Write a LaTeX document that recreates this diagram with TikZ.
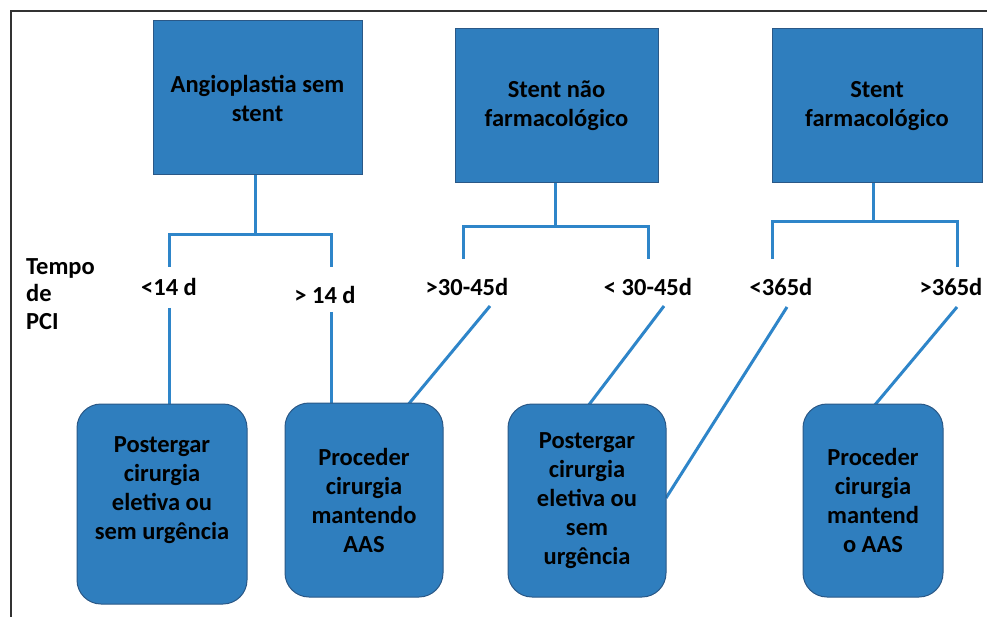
\documentclass[tikz,border=0pt]{standalone}
\usepackage{fontspec}
\setmainfont{Carlito}
\definecolor{boxfill}{RGB}{47,126,190}
\definecolor{boxedge}{RGB}{42,88,135}
\definecolor{linkblue}{RGB}{46,133,201}
\definecolor{framegray}{RGB}{50,50,50}
\tikzset{
  boxfont/.style={font=\bfseries\fontsize{24.5}{29}\selectfont},
  topbox/.style={draw=boxedge, line width=1pt, fill=boxfill, align=center,
    boxfont, inner sep=0pt},
  endbox/.style={draw=boxedge, line width=1pt, fill=boxfill, rounded corners=24pt,
    align=center, boxfont, inner sep=0pt},
  boxtext/.style={align=center, boxfont, inner sep=0pt},
  timelbl/.style={font=\bfseries\fontsize{24.5}{27.5}\selectfont, inner sep=0pt},
  link/.style={draw=linkblue, line width=3pt},
}
\begin{document}
\begin{tikzpicture}[x=1pt, y=-1pt]
\useasboundingbox (0,0) rectangle (987,617);
\fill[white] (0,0) rectangle (987,617);

% outer frame (top and left edges)
\coordinate (fTL) at (10.5,11);
\coordinate (fTR) at (987,11);
\coordinate (fBL) at (10.5,617);
\draw[framegray, line width=2pt] (fBL) -- (fTL) -- (fTR);

% brackets below each category
\coordinate (j1) at (255,235);
\coordinate (j1l) at (169,235);  \coordinate (j1r) at (331,235);
\coordinate (e1l) at (169,267);  \coordinate (e1r) at (331,267);
\coordinate (j2) at (555,227);
\coordinate (j2l) at (463,227);  \coordinate (j2r) at (648,227);
\coordinate (e2l) at (463,259);  \coordinate (e2r) at (648,259);
\coordinate (j3) at (873,222);
\coordinate (j3l) at (772,222);  \coordinate (j3r) at (957,222);
\coordinate (e3l) at (772,259);  \coordinate (e3r) at (957,267);

% stent categories
\node[topbox, minimum width=209pt, minimum height=154pt] (t1) at (257.5,98) {Angioplastia sem\\stent};
\node[topbox, minimum width=203pt, minimum height=154pt] (t2) at (556.5,106) {Stent não\\farmacológico};
\node[topbox, minimum width=210pt, minimum height=154pt] (t3) at (877,106) {Stent\\farmacológico};

% time row
\node[timelbl, align=left, anchor=north west] (tempo) at (26,258) {Tempo\\de\\PCI};
\node[timelbl] (l1) at (169,287) {<14 d};
\node[timelbl] (l2) at (325,295) {> 14 d};
\node[timelbl] (l3) at (467,287) {>30-45d};
\node[timelbl] (l4) at (648,287) {< 30-45d};
\node[timelbl] (l5) at (781,287) {<365d};
\node[timelbl] (l6) at (951,287) {>365d};

% line starts below the interval labels
\coordinate (s1) at (169,308);
\coordinate (s2) at (331,312);
\coordinate (s3) at (490,306);
\coordinate (s4) at (664,306);
\coordinate (s5) at (787,307);
\coordinate (s6) at (957,307);

% connectors (drawn before the outcome boxes so the boxes cover the ends)
\draw[link] (t1.south -| j1) -- (j1);
\draw[link] (e1l) -- (j1l) -- (j1r) -- (e1r);
\draw[link] (t2.south -| j2) -- (j2);
\draw[link] (e2l) -- (j2l) -- (j2r) -- (e2r);
\draw[link] (t3.south -| j3) -- (j3);
\draw[link] (e3l) -- (j3l) -- (j3r) -- (e3r);

\coordinate (a1) at (169,405);
\coordinate (a2) at (331,405);
\coordinate (a3) at (407,406);
\coordinate (a4) at (588,406);
\coordinate (a5) at (666,498);
\coordinate (a6) at (874,406);
\draw[link] (s1) -- (a1);
\draw[link] (s2) -- (a2);
\draw[link] (s3) -- (a3);
\draw[link] (s4) -- (a4);
\draw[link] (s5) -- (a5);
\draw[link] (s6) -- (a6);

% outcomes
\node[endbox, minimum width=170pt, minimum height=200pt] (b1) at (162,504) {};
\node[boxtext] (b1t) at ([yshift=14pt]b1.center) {Postergar\\cirurgia\\eletiva ou\\sem urgência};
\node[endbox, minimum width=158pt, minimum height=194pt] (b2) at (364,500) {Proceder\\cirurgia\\mantendo\\AAS};
\node[endbox, minimum width=158pt, minimum height=193pt] (b3) at (587,500.5) {Postergar\\cirurgia\\eletiva ou\\sem\\urgência};
\node[endbox, minimum width=140pt, minimum height=193pt] (b4) at (873,500.5) {Proceder\\cirurgia\\mantend\\o AAS};
\end{tikzpicture}
\end{document}
